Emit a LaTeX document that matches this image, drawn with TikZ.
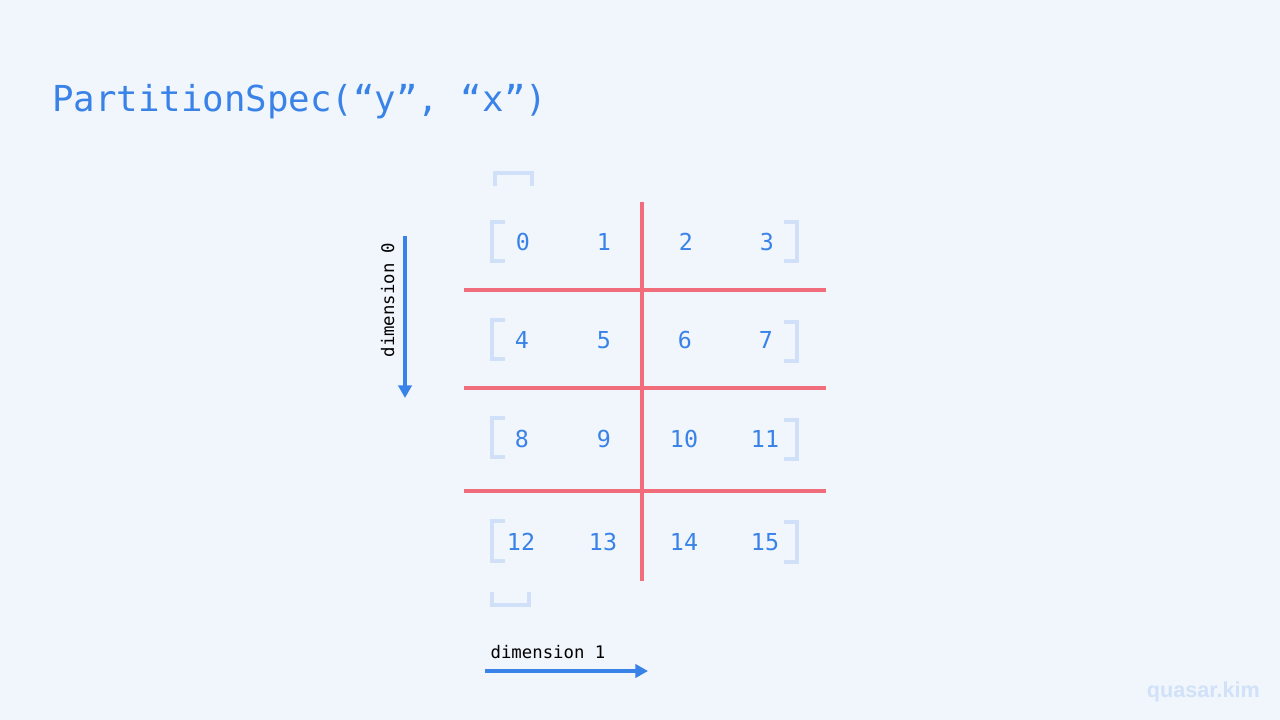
\documentclass[tikz,border=0pt]{standalone}
\usepackage{fontspec}
\setmonofont{DejaVu Sans Mono}
\newfontfamily\wmfont{Liberation Sans}
\usetikzlibrary{arrows.meta}
\definecolor{bgc}{HTML}{F1F6FD}
\definecolor{bluetxt}{HTML}{3882E8}
\definecolor{redln}{HTML}{F26D7C}
\definecolor{brk}{HTML}{CFE0F8}
\definecolor{wmc}{HTML}{D0E1F8}
\tikzset{
  cellnum/.style={anchor=base, inner sep=0pt, text=bluetxt, font=\ttfamily\fontsize{17.5}{20}\selectfont},
  splitline/.style={draw=redln, line width=2.4pt},
  bracketln/.style={draw=brk, line width=2.4pt},
  dimarrow/.style={draw=bluetxt, line width=2.3pt, -{Triangle[length=9.5pt,width=10pt]}},
  dimlabel/.style={inner sep=0pt, text=black, font=\ttfamily\fontsize{13}{15}\selectfont},
}
\begin{document}
\begin{tikzpicture}[x=0.75pt,y=-0.75pt]
\useasboundingbox[fill=bgc] (0,0) rectangle (1280,720);
% title
\node[anchor=base west, inner sep=0pt, text=bluetxt, font=\ttfamily\fontsize{26.8}{30}\selectfont] (title) at (52,112) {PartitionSpec(“y”, “x”)};
% outer brackets
\draw[bracketln] (495,186) -- (495,173) -- (532,173) -- (532,186);
\draw[bracketln] (492,592) -- (492,605) -- (529,605) -- (529,592);
% row brackets
\foreach \yt/\yb in {222/261, 320/359, 418/457, 521/561}{
  \draw[bracketln] (505,\yt) -- (492,\yt) -- (492,\yb) -- (505,\yb);
}
\foreach \yt/\yb in {222/261, 322/361, 420/459, 522/562}{
  \draw[bracketln] (784,\yt) -- (797,\yt) -- (797,\yb) -- (784,\yb);
}
% numbers
\node[cellnum] (n0) at (523,250) {0};
\node[cellnum] (n1) at (604,250) {1};
\node[cellnum] (n2) at (686,250) {2};
\node[cellnum] (n3) at (767,250) {3};
\node[cellnum] (n4) at (522,348) {4};
\node[cellnum] (n5) at (604,348) {5};
\node[cellnum] (n6) at (685,348) {6};
\node[cellnum] (n7) at (766,348) {7};
\node[cellnum] (n8) at (522,447) {8};
\node[cellnum] (n9) at (604,447) {9};
\node[cellnum] (n10) at (684,447) {10};
\node[cellnum] (n11) at (765,447) {11};
\node[cellnum] (n12) at (521,550) {12};
\node[cellnum] (n13) at (603,550) {13};
\node[cellnum] (n14) at (684,550) {14};
\node[cellnum] (n15) at (765,550) {15};
% red split lines
\draw[splitline] (642,202) -- (642,581);
\foreach \y in {290,388,491}{
  \draw[splitline] (464,\y) -- (826,\y);
}
% dimension arrows
\coordinate (d0s) at (405,236);
\coordinate (d0e) at (405,398);
\draw[dimarrow] (d0s) -- (d0e);
\node[dimlabel, rotate=90, anchor=base] (lab0) at (394,300) {dimension 0};
\coordinate (d1s) at (485,671);
\coordinate (d1e) at (648,671);
\draw[dimarrow] (d1s) -- (d1e);
\node[dimlabel, anchor=base] (lab1) at (548,658) {dimension 1};
% watermark
\node[anchor=base east, inner sep=0pt, text=wmc, font=\wmfont\bfseries\fontsize{16.2}{18}\selectfont] (wm) at (1260,697) {quasar.kim};
\end{tikzpicture}
\end{document}
